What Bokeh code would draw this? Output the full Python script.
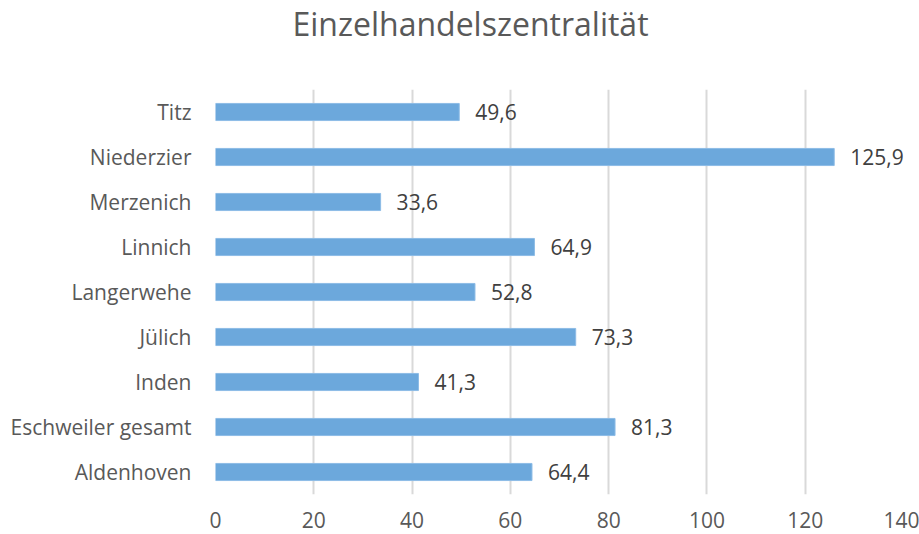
from bokeh.plotting import figure
from bokeh.models import ColumnDataSource, FixedTicker, Title, Range1d
from bokeh.embed import file_html
from bokeh.resources import INLINE

title_text = "Einzelhandelszentralität"
categories = ["Aldenhoven", "Eschweiler gesamt", "Inden", "Jülich", "Langerwehe",
              "Linnich", "Merzenich", "Niederzier", "Titz"]
values = [64.4, 81.3, 41.3, 73.3, 52.8, 64.9, 33.6, 125.9, 49.6]
labels = [f"{v:.1f}".replace(".", ",") for v in values]
x_ticks = [0, 20, 40, 60, 80, 100, 120, 140]

FONT = "Open Sans"
GREY = "#595959"

src = ColumnDataSource(dict(cat=categories, val=values, lab=labels))

p = figure(y_range=categories, x_range=Range1d(0, 140), width=919, height=534,
           output_backend="svg", toolbar_location=None,
           min_border_left=215, min_border_right=16, min_border_top=89, min_border_bottom=40)
# trailing empty line lifts the title away from the plot frame
p.title = Title(text=title_text + "\n ", align="left", offset=77, text_font=FONT,
                text_font_size="32px", text_font_style="normal", text_color=GREY,
                vertical_align="top", standoff=0)
p.y_range.range_padding = 0

p.hbar(y="cat", right="val", left=0, height=0.38, source=src,
       fill_color="#6CA8DC", line_color="#8DBCE6", line_width=1)
p.text(x="val", y="cat", text="lab", source=src, x_offset=16,
       text_align="left", text_baseline="middle", text_font_size="21px",
       text_color="#404040", text_font={"value": FONT})

p.outline_line_color = None
p.background_fill_color = "white"
p.border_fill_color = "white"

p.xaxis.ticker = FixedTicker(ticks=x_ticks)
p.xaxis.axis_line_color = None
p.xaxis.major_tick_line_color = None
p.xaxis.minor_tick_line_color = None
p.xaxis.major_label_text_font = FONT
p.xaxis.major_label_text_font_size = "21px"
p.xaxis.major_label_text_color = GREY
p.xaxis.major_label_standoff = 11

p.yaxis.axis_line_color = None
p.yaxis.major_tick_line_color = None
p.yaxis.minor_tick_line_color = None
p.yaxis.major_label_text_font = FONT
p.yaxis.major_label_text_font_size = "21px"
p.yaxis.major_label_text_color = GREY
p.yaxis.major_label_standoff = 18

p.xgrid.grid_line_color = "#D9D9D9"
p.xgrid.grid_line_width = 2
p.ygrid.grid_line_color = None

open("out.html", "w").write(file_html(p, INLINE))
